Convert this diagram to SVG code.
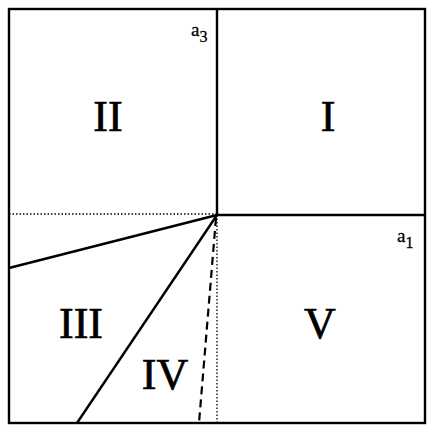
<svg xmlns="http://www.w3.org/2000/svg" width="427" height="428" viewBox="0 0 427 428">
<style>
.s{stroke:#000;stroke-width:2.4;fill:none}
.d{stroke:#000;stroke-width:1.3;fill:none;stroke-dasharray:1.5 2}
.da{stroke:#000;stroke-width:2.2;fill:none;stroke-dasharray:8 5}
.r{font-family:"Liberation Serif",serif;font-size:44px;fill:#000;stroke:#000;stroke-width:0.7;text-anchor:middle}
.a{font-family:"Liberation Serif",serif;font-size:19px;fill:#000;stroke:#000;stroke-width:0.3}
</style>
<rect width="427" height="428" fill="#fff"/>
<g id="connectors">
<rect x="9" y="9" width="416" height="414" class="s" stroke-width="1.8"/>
<line x1="217" y1="9" x2="217" y2="215" class="s"/>
<line x1="217" y1="215" x2="425" y2="215" class="s"/>
<line x1="9" y1="214" x2="217" y2="214" class="d"/>
<line x1="217" y1="215" x2="217" y2="423" class="d"/>
<line x1="217" y1="215" x2="9" y2="268" class="s"/>
<line x1="217" y1="215" x2="77" y2="423" class="s"/>
<line x1="216" y1="218" x2="199" y2="423" class="da"/>
</g>
<g id="I"><text x="328" y="131" class="r">I</text></g>
<g id="II"><text x="108" y="131" class="r">II</text></g>
<g id="III"><text x="81" y="338" class="r">III</text></g>
<g id="IV"><text x="165" y="389" class="r">IV</text></g>
<g id="V"><text x="320" y="338" class="r">V</text></g>
<g id="a3"><text x="191" y="36" class="a">a<tspan font-size="16" dy="6">3</tspan></text></g>
<g id="a1"><text x="397" y="242" class="a">a<tspan font-size="16" dy="6">1</tspan></text></g>
</svg>
